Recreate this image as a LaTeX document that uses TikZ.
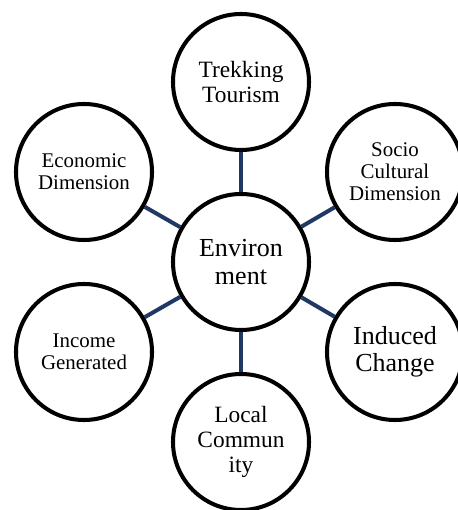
\documentclass[tikz,border=0pt]{standalone}
\usepackage{fontspec}
\setmainfont{Liberation Serif}
\usepackage{xcolor}
\definecolor{linknavy}{RGB}{31,56,100}
\tikzset{
    bubble/.style = {circle, minimum size=2.72cm, inner sep=0pt, align=center, draw=black, line width=2.3pt},
    smalltext/.style = {font=\fontsize{11.9}{12.5}\selectfont},
    midtext/.style = {font=\fontsize{13.3}{14.2}\selectfont},
    bigtext/.style = {font=\fontsize{14.8}{15.4}\selectfont},
    link/.style = {draw=linknavy, line width=2.3pt}
}

\begin{document}
\begin{tikzpicture}
    \useasboundingbox (-4.82, -4.96) rectangle (4.34, 5.24);

    \node (env) [bubble, bigtext] at (0, 0) {Environ\\ment};

    \node (trek) [bubble, midtext] at (0, 3.6) {Trekking\\Tourism};
    \node (econ) [bubble, smalltext] at (-3.14, 1.8) {Economic\\Dimension};
    \node (socio) [bubble, smalltext] at (3.08, 1.8) {Socio\\Cultural\\Dimension};
    \node (income) [bubble, smalltext] at (-3.14, -1.8) {Income\\Generated};
    \node (induced) [bubble, bigtext] at (3.08, -1.8) {Induced\\Change};
    \node (local) [bubble, midtext] at (0, -3.6) {Local\\Commun\\ity};

    \draw [link] (env) -- (trek);
    \draw [link] (env) -- (econ);
    \draw [link] (env) -- (socio);
    \draw [link] (env) -- (income);
    \draw [link] (env) -- (induced);
    \draw [link] (env) -- (local);
\end{tikzpicture}
\end{document}
